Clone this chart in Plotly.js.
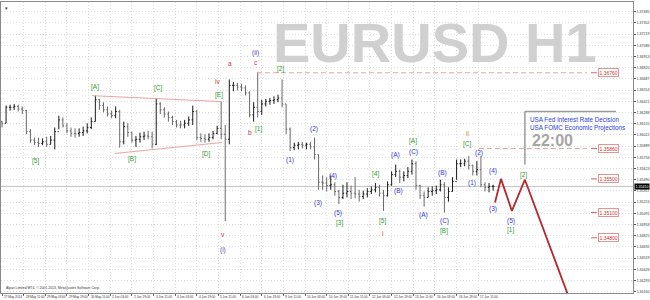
<!DOCTYPE html>
<html><head><meta charset="utf-8">
<script src="https://cdn.plot.ly/plotly-3.0.1.min.js"></script>
<style>html,body{margin:0;padding:0;background:#fff}#chart{width:650px;height:300px}</style>
</head><body><div id="chart"></div>
<script>
// EURUSD H1 bars, each plotted bar aggregates 3 hourly bars (bar index = hours since 27 May 19:00)
const barStep = 3;
const highs = [1.3619,1.3637,1.3638,1.3639,1.3638,1.3636,1.3632,1.3609,1.3599,1.3599,
1.3598,1.3600,1.3601,1.3611,1.3625,1.3623,1.3616,1.3611,1.3610,1.3610,
1.3612,1.3616,1.3623,1.3649,1.3645,1.3641,1.3636,1.3631,1.3636,1.3632,
1.3618,1.3616,1.3606,1.3601,1.3605,1.3606,1.3607,1.3606,1.3646,1.3641,
1.3635,1.3630,1.3625,1.3620,1.3619,1.3620,1.3624,1.3637,1.3632,1.3604,
1.3603,1.3604,1.3607,1.3613,1.3642,1.3614,1.3668,1.3665,1.3664,1.3663,
1.3661,1.3654,1.3641,1.3677,1.3644,1.3645,1.3646,1.3648,1.3650,1.3668,
1.3639,1.3611,1.3593,1.3594,1.3594,1.3593,1.3594,1.3599,1.3579,1.3554,
1.3552,1.3554,1.3546,1.3537,1.3543,1.3546,1.3542,1.3552,1.3537,1.3536,
1.3539,1.3541,1.3545,1.3543,1.3537,1.3547,1.3559,1.3567,1.3561,1.3559,
1.3564,1.3573,1.3571,1.3543,1.3535,1.3540,1.3541,1.3542,1.3549,1.3546,
1.3540,1.3552,1.3573,1.3573,1.3574,1.3577,1.3567,1.3571,1.3577,1.3546,
1.3545,1.3543];
const lows = [1.3611,1.3616,1.3631,1.3632,1.3630,1.3627,1.3603,1.3593,1.3590,1.3588,
1.3590,1.3588,1.3591,1.3585,1.3609,1.3611,1.3604,1.3600,1.3599,1.3600,
1.3601,1.3604,1.3609,1.3618,1.3632,1.3629,1.3624,1.3622,1.3622,1.3587,
1.3591,1.3600,1.3593,1.3588,1.3593,1.3596,1.3597,1.3586,1.3590,1.3627,
1.3623,1.3618,1.3614,1.3611,1.3610,1.3610,1.3613,1.3614,1.3596,1.3594,
1.3593,1.3594,1.3597,1.3603,1.3597,1.3500,1.3591,1.3654,1.3655,1.3654,
1.3649,1.3623,1.3618,1.3623,1.3626,1.3636,1.3638,1.3639,1.3641,1.3635,
1.3603,1.3583,1.3584,1.3585,1.3586,1.3585,1.3585,1.3573,1.3537,1.3537,
1.3535,1.3537,1.3530,1.3520,1.3526,1.3528,1.3526,1.3527,1.3523,1.3526,
1.3528,1.3532,1.3534,1.3529,1.3512,1.3529,1.3542,1.3552,1.3545,1.3547,
1.3551,1.3555,1.3537,1.3526,1.3517,1.3528,1.3530,1.3532,1.3535,1.3510,
1.3523,1.3535,1.3549,1.3564,1.3565,1.3561,1.3554,1.3554,1.3540,1.3535,
1.3534,1.3536];
const closes = [1.3616,1.3635,1.3635,1.3636,1.3633,1.3631,1.3606,1.3596,1.3593,1.3592,
1.3594,1.3591,1.3596,1.3606,1.3620,1.3613,1.3607,1.3604,1.3604,1.3605,
1.3607,1.3611,1.3618,1.3644,1.3637,1.3632,1.3627,1.3625,1.3630,1.3594,
1.3612,1.3605,1.3596,1.3597,1.3600,1.3601,1.3600,1.3591,1.3639,1.3632,
1.3627,1.3623,1.3618,1.3614,1.3614,1.3616,1.3620,1.3630,1.3599,1.3598,
1.3597,1.3599,1.3604,1.3610,1.3603,1.3597,1.3661,1.3661,1.3659,1.3658,
1.3652,1.3626,1.3635,1.3630,1.3639,1.3642,1.3643,1.3644,1.3646,1.3639,
1.3609,1.3587,1.3590,1.3591,1.3590,1.3591,1.3588,1.3579,1.3546,1.3545,
1.3542,1.3543,1.3535,1.3528,1.3533,1.3535,1.3533,1.3532,1.3529,1.3532,
1.3535,1.3537,1.3540,1.3533,1.3530,1.3543,1.3555,1.3559,1.3552,1.3554,
1.3559,1.3568,1.3542,1.3530,1.3528,1.3535,1.3536,1.3537,1.3543,1.3528,
1.3535,1.3547,1.3568,1.3568,1.3571,1.3566,1.3559,1.3561,1.3543,1.3540,
1.3541,1.3541];
const firstOpen = 1.3618;
const lastPrice = 1.3541;

// time axis labels (every 16 hourly bars)
const xTickVals = [0,16,32,48,64,80,96,112,128,144,160,176,192,208,224,240,256,272,288,304,320,336,352];
const xTickText = ['27 May 2014','28 May 11:00','29 May 03:00','29 May 19:00','30 May 11:00','2 Jun 03:00','2 Jun 19:00','3 Jun 11:00','4 Jun 03:00','4 Jun 19:00','5 Jun 11:00','6 Jun 03:00','6 Jun 19:00','9 Jun 11:00','10 Jun 03:00','10 Jun 19:00','11 Jun 11:00','12 Jun 03:00','12 Jun 19:00','13 Jun 11:00','16 Jun 03:00','16 Jun 19:00','17 Jun 11:00'];
const yTickVals = [1.34160,1.34293,1.34426,1.34559,1.34692,1.34825,1.34958,1.35091,1.35224,1.35357,1.35490,1.35623,1.35756,1.35889,1.36022,1.36155,1.36288,1.36421,1.36554,1.36687,1.36820,1.36953,1.37086,1.37219,1.37352,1.37485];

// Elliott wave labels
const waveText = ['[5]','[A]','[B]','[C]','[D]','[E]','iv','a','b','c','(ii)','[1]','[2]','v','(i)','(1)','(2)','(3)','(4)','(5)','[3]','[4]','[5]','i','(A)','(B)','(C)','[A]','(A)','(B)','(C)','[B]','ii','[C]','(2)','(1)','(4)','(3)','(5)','[1]','[2]'];
const waveBar = [24.4,68.7,96.1,116.0,151.5,160.4,159.6,168.5,183.3,187.7,187.7,189.9,206.2,163.3,163.3,212.9,230.6,233.6,244.6,248.3,249.1,276.4,280.9,280.9,290.5,293.4,303.8,303.8,311.2,325.9,326.7,326.7,343.7,344.4,352.5,347.4,362.9,362.9,376.2,376.2,385.8];
const wavePrice = [1.35707,1.36594,1.35731,1.36583,1.3579,1.365,1.36654,1.36866,1.3605,1.36878,1.36997,1.36098,1.36807,1.34844,1.34654,1.35719,1.36098,1.3521,1.3553,1.35092,1.34974,1.35553,1.34997,1.34855,1.35778,1.35352,1.35825,1.35944,1.35068,1.35565,1.34997,1.34879,1.36038,1.3592,1.35802,1.35447,1.35589,1.35139,1.34997,1.34891,1.35542];

// triangle boundaries
const triUpperBar = [66.5, 162.6], triUpperPrice = [1.36488, 1.36417];
const triLowerBar = [83.5, 162.6], triLowerPrice = [1.35802, 1.35932];

// projected path
const projBar = [364.4, 368.8, 376.9, 386.5, 423.5];
const projPrice = [1.3522, 1.3550, 1.3512, 1.3549, 1.3390];

// key levels
const levels = [1.3676, 1.3586, 1.3550, 1.3510, 1.3480];
const levelStartBar = [188.5, 352.5, null, null, null];
const levelEndBar = 432.4;

// news event
const eventBar = 386.5;
const eventTexts = ['USA Fed Interest Rate Decision', 'USA FOMC Economic Projections'];
const eventTime = '22:00';

const xs = closes.map((_, k) => k * barStep);
const opens = closes.map((c, k) => k === 0 ? firstOpen : closes[k - 1]);

const traces = [
  {type:'ohlc', x:xs, open:opens, high:highs, low:lows, close:closes,
   increasing:{line:{color:'#1a1a1a', width:1}}, decreasing:{line:{color:'#6a6a6a', width:1}},
   tickwidth:0.3, hoverinfo:'skip'},
  {type:'scatter', mode:'lines', x:projBar, y:projPrice, line:{color:'#b8262b', width:1.8}, hoverinfo:'skip'}
];

const pink = '#eba3a3';
const shapes = [
  {type:'line', x0:0, x1:1, xref:'paper', y0:lastPrice, y1:lastPrice, line:{color:'#c4c4c4', width:1}, layer:'below'},
  {type:'line', x0:triUpperBar[0], x1:triUpperBar[1], y0:triUpperPrice[0], y1:triUpperPrice[1], line:{color:pink, width:1}},
  {type:'line', x0:triLowerBar[0], x1:triLowerBar[1], y0:triLowerPrice[0], y1:triLowerPrice[1], line:{color:pink, width:1}},
  // event marker
  {type:'line', x0:eventBar, x1:eventBar, y0:1.35672, y1:1.36299, line:{color:'#9a9a9a', width:1.5}},
  {type:'line', x0:eventBar, x1:453.8, y0:1.36299, y1:1.36299, line:{color:'#9a9a9a', width:1.5}}
];
const annotations = [];
levels.forEach((lv, j) => {
  if (levelStartBar[j] !== null) {
    shapes.push({type:'line', x0:levelStartBar[j], x1:levelEndBar, y0:lv, y1:lv, line:{color:pink, width:1, dash:'5px,3px'}});
  }
  shapes.push({type:'line', xref:'paper', x0:0.9335, x1:0.943, y0:lv, y1:lv, line:{color:'#d46a6a', width:1}});
  annotations.push({xref:'paper', x:0.9446, xanchor:'left', y:lv, yanchor:'middle', text:lv.toFixed(5), showarrow:false,
    font:{family:'Liberation Sans, Arial, sans-serif', size:5, color:'#cc3333'}, bgcolor:'#fff', bordercolor:'#e39494', borderwidth:1, borderpad:0.5});
});

function waveColor(t) {
  if (t[0] === '[') return '#2f9e2f';
  if (t === '(ii)' || t === '(i)') return '#5a3cc8';
  if (t[0] === '(') return '#3535e0';
  if (t === 'ii') return '#e07a22';
  return '#cc3333';
}
waveText.forEach((t, j) => annotations.push({x:waveBar[j], y:wavePrice[j], text:t, showarrow:false,
  xanchor:'center', yanchor:'middle', font:{family:'Liberation Sans, Arial, sans-serif', size:6.5, color:waveColor(t)}}));

// time labels, left-aligned to their tick as in MT4
xTickVals.forEach((v, j) => annotations.push({x:v, yref:'paper', y:-0.003, xanchor:'left', yanchor:'top', xshift:1,
  text:xTickText[j], showarrow:false, borderpad:0, font:{family:'Liberation Sans, Arial, sans-serif', size:3.1, color:'#333'}}));

// watermark
annotations.push({xref:'paper', yref:'paper', x:0.6867, y:0.8596, xanchor:'center', yanchor:'middle', text:'<b>EURUSD H1</b>', showarrow:false,
  font:{family:'Liberation Sans, Arial, sans-serif', size:56, color:'#d0d0d0'}});
// event texts
annotations.push({x:388.8, y:1.36204, xanchor:'left', yanchor:'middle', text:eventTexts[0], showarrow:false,
  font:{family:'Liberation Sans, Arial, sans-serif', size:6.3, color:'#2a3be0'}});
annotations.push({x:388.8, y:1.36109, xanchor:'left', yanchor:'middle', text:eventTexts[1], showarrow:false,
  font:{family:'Liberation Sans, Arial, sans-serif', size:6.3, color:'#2a3be0'}});
annotations.push({x:390.2, y:1.35956, xanchor:'left', yanchor:'middle', text:'<b>' + eventTime + '</b>', showarrow:false,
  font:{family:'Liberation Sans, Arial, sans-serif', size:16, color:'#a6a6a6'}});
// copyright
annotations.push({xref:'paper', yref:'paper', x:0.004, y:0.017, xanchor:'left', yanchor:'middle', showarrow:false,
  text:'Alpari Limited MT4, © 2001-2013, MetaQuotes Software Corp.', font:{family:'Liberation Sans, Arial, sans-serif', size:3.4, color:'#333'}});
// current price label
annotations.push({xref:'paper', x:1.0016, xanchor:'left', y:lastPrice, yanchor:'middle', showarrow:false,
  text:lastPrice.toFixed(5), bgcolor:'#000', borderpad:0.5, font:{family:'Liberation Sans, Arial, sans-serif', size:3.6, color:'#fff'}});
annotations.push({xref:'paper', yref:'paper', x:0.003, y:0.995, xanchor:'left', yanchor:'top', showarrow:false,
  text:'▾', font:{size:5, color:'#333'}});

const layout = {
  width:650, height:300, margin:{l:1, r:17, t:2, b:7, pad:0},
  paper_bgcolor:'#fff', plot_bgcolor:'#fff', showlegend:false,
  font:{family:'Liberation Sans, Arial, sans-serif'},
  xaxis:{range:[-0.74, 466.4], tickmode:'array', tickvals:xTickVals, showticklabels:false,
    showgrid:true, gridcolor:'#dedede', griddash:'1px,2px', gridwidth:1, zeroline:false,
    showline:true, mirror:true, linecolor:'#8a8a8a', linewidth:1,
    ticks:'outside', ticklen:2, tickcolor:'#666', rangeslider:{visible:false}, fixedrange:true},
  yaxis:{range:[1.34145, 1.376], side:'right', tickmode:'array', tickvals:yTickVals, ticktext:yTickVals.map(v => v.toFixed(5)),
    showgrid:true, gridcolor:'#dedede', griddash:'1px,2px', gridwidth:1, zeroline:false,
    showline:true, mirror:true, linecolor:'#8a8a8a', linewidth:1,
    ticks:'outside', ticklen:2, tickcolor:'#555', tickfont:{size:3.5, color:'#333'}, fixedrange:true},
  shapes:shapes, annotations:annotations
};
Plotly.newPlot('chart', traces, layout, {staticPlot:true, displayModeBar:false});
</script>
</body></html>
